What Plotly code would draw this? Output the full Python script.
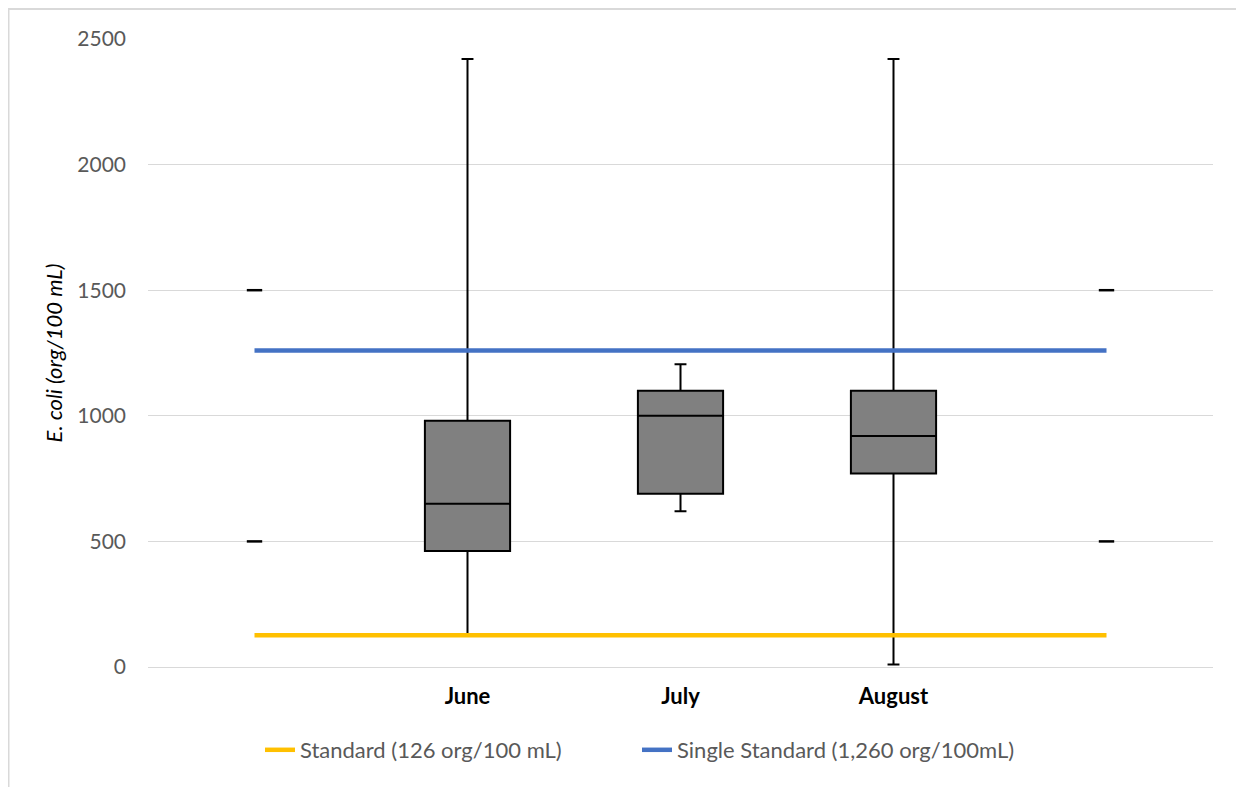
import plotly.graph_objects as go

months = ["June", "July", "August"]
month_pos = [1, 2, 3]
mins = [130, 620, 10]
q1s = [462, 690, 770]
medians = [650, 1000, 920]
q3s = [980, 1100, 1100]
maxs = [2420, 1205, 2420]

line_x = [0, 4]
standard_value = 126
single_standard_value = 1260
marker_x = [0, 0, 4, 4]
marker_y = [500, 1500, 500, 1500]

yticks = [0, 500, 1000, 1500, 2000, 2500]

fig = go.Figure()

fig.add_trace(go.Box(
    x=month_pos, q1=q1s, median=medians, q3=q3s,
    lowerfence=mins, upperfence=maxs,
    width=0.4, whiskerwidth=0.14,
    fillcolor="#808080", line=dict(color="black", width=2),
    showlegend=False, hoverinfo="skip", boxpoints=False,
))

fig.add_trace(go.Scatter(
    x=marker_x, y=marker_y, mode="markers",
    marker=dict(symbol="line-ew", size=11, line=dict(color="black", width=2.5)),
    showlegend=False, hoverinfo="skip",
))

fig.add_trace(go.Scatter(
    x=line_x, y=[standard_value] * 2, mode="lines",
    line=dict(color="#FFC000", width=4.5),
    name="Standard (126 org/100 mL)", legend="legend",
))
fig.add_trace(go.Scatter(
    x=line_x, y=[single_standard_value] * 2, mode="lines",
    line=dict(color="#4472C4", width=4.5),
    name="Single Standard (1,260 org/100mL)", legend="legend2",
))

# page body has an 8px margin in the browser; compensate
W, H = 1236, 779
L, T = 140, 31
PW = 1065
PH = 628
R = W - L - PW
B = H - T - PH

def px_to_paper_x(px):
    return (px - 8 - L) / PW

def px_to_paper_y(py):
    return (T + PH - (py - 8)) / PH

legend_font = dict(size=22, color="#595959")

fig.update_layout(
    width=W, height=H,
    margin=dict(l=L, r=R, t=T, b=B, pad=0),
    paper_bgcolor="white", plot_bgcolor="white",
    font=dict(family="Lato, Open Sans, sans-serif", color="#595959", size=21),
    legend=dict(orientation="h", x=px_to_paper_x(260), xanchor="left",
                y=px_to_paper_y(750), yanchor="middle", font=legend_font),
    legend2=dict(orientation="h", x=px_to_paper_x(637), xanchor="left",
                 y=px_to_paper_y(750), yanchor="middle", font=legend_font),
    xaxis=dict(range=[-0.5, 4.5], tickvals=month_pos, ticktext=[f"<b>{m}</b>" for m in months],
               tickfont=dict(color="black", size=22), showgrid=False, zeroline=False,
               showline=False, ticks="", ticklen=0, ticklabelstandoff=14),
    yaxis=dict(range=[0, 2500], tickvals=yticks, showgrid=True, gridcolor="#D9D9D9", gridwidth=1,
               zeroline=True, zerolinecolor="#D9D9D9", zerolinewidth=1, ticks="",
               tickfont=dict(size=21, color="#595959"), ticklabelstandoff=21,
               title=dict(text="<i>E. coli (org/100 mL)</i>", font=dict(size=22, color="black"), standoff=8)),
    shapes=[dict(type="rect", xref="paper", yref="paper",
                 x0=px_to_paper_x(8.5), x1=px_to_paper_x(1241),
                 y0=px_to_paper_y(800), y1=px_to_paper_y(9),
                 line=dict(color="#D9D9D9", width=2), layer="below")],
)

fig.write_html("out.html")
